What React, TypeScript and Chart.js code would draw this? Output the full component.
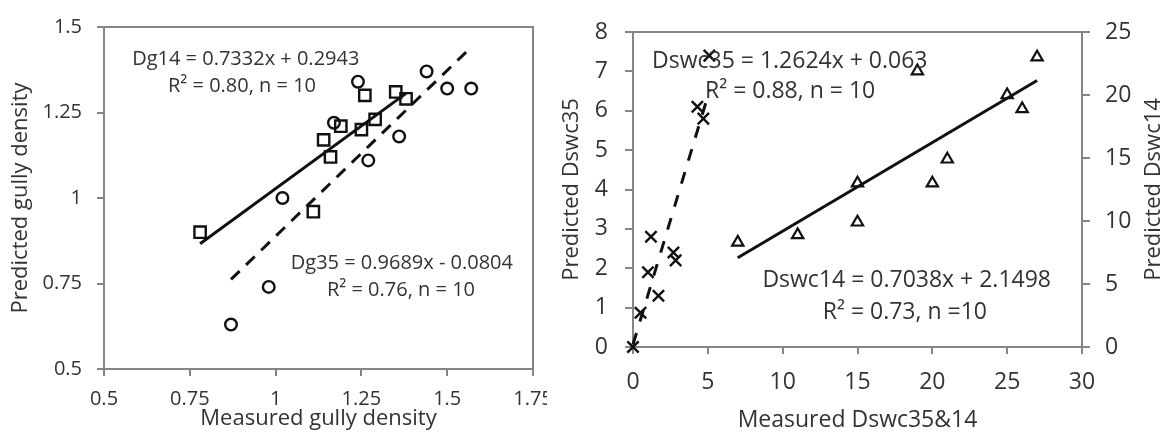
import React, { useEffect, useRef } from "react";
import { Chart, registerables } from "chart.js";

Chart.register(...registerables);

// ---------- Left panel: gully density ----------
const dg14Measured = [0.78, 1.11, 1.14, 1.16, 1.19, 1.25, 1.26, 1.29, 1.35, 1.38];
const dg14Predicted = [0.9, 0.96, 1.17, 1.12, 1.21, 1.2, 1.3, 1.23, 1.31, 1.29];
const dg35Measured = [0.87, 0.98, 1.02, 1.17, 1.24, 1.27, 1.36, 1.44, 1.5, 1.57];
const dg35Predicted = [0.63, 0.74, 1.0, 1.22, 1.34, 1.11, 1.18, 1.37, 1.32, 1.32];
const dg14TrendX = [0.78, 1.38];
const dg14TrendY = [0.866, 1.306];
const dg35TrendX = [0.87, 1.57];
const dg35TrendY = [0.762, 1.441];
const gullyXTickLabels = ["0.5", "0.75", "1", "1.25", "1.5", "1.75"];
const gullyYTickLabels = ["0.5", "0.75", "1", "1.25", "1.5"];

// ---------- Right panel: Dswc ----------
const dswc35Measured = [0, 0.5, 1.0, 1.2, 1.7, 2.7, 2.85, 4.3, 4.7, 5.1];
const dswc35Predicted = [0, 0.87, 1.9, 2.8, 1.3, 2.4, 2.2, 6.1, 5.8, 7.4];
const dswc14Measured = [7, 11, 15, 15, 19, 20, 21, 25, 26, 27];
const dswc14Predicted = [8.3, 8.9, 13.0, 9.9, 21.9, 13.0, 14.9, 20.0, 18.9, 23.0];
const dswc35TrendX = [0, 5.1];
const dswc35TrendY = [0.063, 6.5];
const dswc14TrendX = [7, 27];
const dswc14TrendY = [7.08, 21.15];

const TEXT = "#333333";
const AXIS = "#858585";
const INK = "#111111";
const FONT = "'Open Sans'";

const pts = (xs: number[], ys: number[]) => xs.map((x, i) => ({ x, y: ys[i] }));

const framePlugin = {
  id: "frame",
  beforeDatasetsDraw(chart: any) {
    const { ctx, chartArea: a } = chart;
    ctx.save();
    ctx.strokeStyle = AXIS;
    ctx.lineWidth = 2;
    ctx.strokeRect(a.left, a.top, a.right - a.left, a.bottom - a.top);
    ctx.restore();
  },
};

type Note = { text: string; x: number; y: number; align: CanvasTextAlign; size: number; yAxis?: string };

const notesPlugin = (notes: Note[]) => ({
  id: "notes",
  afterDatasetsDraw(chart: any) {
    const { ctx, scales } = chart;
    ctx.save();
    ctx.fillStyle = TEXT;
    ctx.textBaseline = "middle";
    notes.forEach((n) => {
      ctx.font = `${n.size}px ${FONT}`;
      ctx.textAlign = n.align;
      const px = scales.x.getPixelForValue(n.x);
      const py = scales[n.yAxis || "y"].getPixelForValue(n.y);
      ctx.fillText(n.text, px, py);
    });
    ctx.restore();
  },
});

const rightTitlePlugin = (text: string, size: number) => ({
  id: "rightTitle",
  afterDraw(chart: any) {
    const { ctx, chartArea: a, width } = chart;
    ctx.save();
    ctx.fillStyle = TEXT;
    ctx.font = `${size}px ${FONT}`;
    ctx.textAlign = "center";
    ctx.textBaseline = "middle";
    ctx.translate(width - size * 0.6, (a.top + a.bottom) / 2);
    ctx.rotate(-Math.PI / 2);
    ctx.fillText(text, 0, 0);
    ctx.restore();
  },
});

const gridOpts = (len: number) => ({
  drawOnChartArea: false,
  drawTicks: true,
  tickLength: len,
  color: AXIS,
  lineWidth: 2,
});

export default function App() {
  const leftRef = useRef<HTMLCanvasElement>(null);
  const rightRef = useRef<HTMLCanvasElement>(null);

  useEffect(() => {
    const left = new Chart(leftRef.current as HTMLCanvasElement, {
      type: "scatter",
      data: {
        datasets: [
          {
            label: "Dg14 trend",
            data: pts(dg14TrendX, dg14TrendY),
            showLine: true,
            borderColor: INK,
            borderWidth: 3,
            pointRadius: 0,
            clip: false,
          },
          {
            label: "Dg35 trend",
            data: pts(dg35TrendX, dg35TrendY),
            showLine: true,
            borderColor: INK,
            borderWidth: 3,
            borderDash: [12, 9],
            pointRadius: 0,
            clip: false,
          },
          {
            label: "Dg14",
            data: pts(dg14Measured, dg14Predicted),
            pointStyle: "rect",
            pointRadius: 8,
            pointBorderWidth: 2.4,
            pointBorderColor: INK,
            pointBackgroundColor: "rgba(0,0,0,0)",
            clip: false,
          },
          {
            label: "Dg35",
            data: pts(dg35Measured, dg35Predicted),
            pointStyle: "circle",
            pointRadius: 5.8,
            pointBorderWidth: 2.4,
            pointBorderColor: INK,
            pointBackgroundColor: "rgba(0,0,0,0)",
            clip: false,
          },
        ],
      },
      options: {
        responsive: false,
        animation: false,
        devicePixelRatio: 1,
        events: [],
        layout: { padding: { top: 20, right: 14, bottom: 0, left: 0 } },
        plugins: { legend: { display: false }, tooltip: { enabled: false } },
        scales: {
          x: {
            type: "linear",
            position: "bottom",
            min: 0.5,
            max: 1.75,
            border: { display: false },
            grid: gridOpts(7),
            ticks: {
              stepSize: 0.25,
              autoSkip: false,
              maxRotation: 0,
              padding: 11,
              color: TEXT,
              font: { family: FONT, size: 20 },
              callback: (_v: any, i: number) => gullyXTickLabels[i],
            },
            title: {
              display: true,
              text: "Measured gully density",
              color: TEXT,
              font: { family: FONT, size: 22 },
              padding: { top: 0, bottom: 4 },
            },
            afterFit: (s: any) => {
              s.height = 67;
              s.paddingLeft = 0;
              s.paddingRight = 0;
            },
          },
          y: {
            type: "linear",
            position: "left",
            min: 0.5,
            max: 1.5,
            border: { display: false },
            grid: gridOpts(7),
            ticks: {
              stepSize: 0.25,
              autoSkip: false,
              padding: 15,
              color: TEXT,
              font: { family: FONT, size: 20 },
              callback: (_v: any, i: number) => gullyYTickLabels[i],
            },
            title: {
              display: true,
              text: "Predicted gully density",
              color: TEXT,
              font: { family: FONT, size: 22 },
              padding: { top: 8, bottom: 0 },
            },
            afterFit: (s: any) => {
              s.width = 104;
            },
          },
        },
      },
      plugins: [
        framePlugin,
        notesPlugin([
          { text: "Dg14 = 0.7332x + 0.2943", x: 0.582, y: 1.405, align: "left", size: 20 },
          { text: "R² = 0.80, n = 10", x: 0.6865, y: 1.328, align: "left", size: 20 },
          { text: "Dg35 = 0.9689x - 0.0804", x: 1.6917, y: 0.8095, align: "right", size: 20 },
          { text: "R² = 0.76, n = 10", x: 1.581, y: 0.7292, align: "right", size: 20 },
        ]),
      ],
    } as any);

    const right = new Chart(rightRef.current as HTMLCanvasElement, {
      type: "scatter",
      data: {
        datasets: [
          {
            label: "Dswc35 trend",
            data: pts(dswc35TrendX, dswc35TrendY),
            yAxisID: "y",
            showLine: true,
            borderColor: INK,
            borderWidth: 3,
            borderDash: [12, 12],
            pointRadius: 0,
            clip: false,
          },
          {
            label: "Dswc14 trend",
            data: pts(dswc14TrendX, dswc14TrendY),
            yAxisID: "y2",
            showLine: true,
            borderColor: INK,
            borderWidth: 3,
            pointRadius: 0,
            clip: false,
          },
          {
            label: "Dswc35",
            data: pts(dswc35Measured, dswc35Predicted),
            yAxisID: "y",
            pointStyle: "crossRot",
            pointRadius: 8,
            pointBorderWidth: 2.4,
            pointBorderColor: INK,
            pointBackgroundColor: "rgba(0,0,0,0)",
            clip: false,
          },
          {
            label: "Dswc14",
            data: pts(dswc14Measured, dswc14Predicted),
            yAxisID: "y2",
            pointStyle: "triangle",
            pointRadius: 6.5,
            pointBorderWidth: 2.2,
            pointBorderColor: INK,
            pointBackgroundColor: "rgba(0,0,0,0)",
            clip: false,
          },
        ],
      },
      options: {
        responsive: false,
        animation: false,
        devicePixelRatio: 1,
        events: [],
        layout: { padding: { top: 32, right: 0, bottom: 0, left: 0 } },
        plugins: { legend: { display: false }, tooltip: { enabled: false } },
        scales: {
          x: {
            type: "linear",
            position: "bottom",
            min: 0,
            max: 30,
            border: { display: false },
            grid: gridOpts(7),
            ticks: {
              stepSize: 5,
              autoSkip: false,
              maxRotation: 0,
              padding: 15,
              color: TEXT,
              font: { family: FONT, size: 23 },
            },
            title: {
              display: true,
              text: "Measured Dswc35&14",
              color: TEXT,
              font: { family: FONT, size: 23 },
              padding: { top: 0, bottom: 2 },
            },
            afterFit: (s: any) => {
              s.height = 89;
              s.paddingLeft = 0;
              s.paddingRight = 0;
            },
          },
          y: {
            type: "linear",
            position: "left",
            min: 0,
            max: 8,
            border: { display: false },
            grid: gridOpts(8),
            ticks: {
              stepSize: 1,
              autoSkip: false,
              padding: 17,
              color: TEXT,
              font: { family: FONT, size: 23 },
            },
            title: {
              display: true,
              text: "Predicted Dswc35",
              color: TEXT,
              font: { family: FONT, size: 22 },
              padding: { top: 12, bottom: 0 },
            },
            afterFit: (s: any) => {
              s.width = 86;
            },
          },
          y2: {
            type: "linear",
            position: "right",
            min: 0,
            max: 25,
            border: { display: false },
            grid: gridOpts(8),
            ticks: {
              stepSize: 5,
              autoSkip: false,
              padding: 15,
              color: TEXT,
              font: { family: FONT, size: 23 },
            },
            title: { display: false },
            afterFit: (s: any) => {
              s.width = 85;
            },
          },
        },
      },
      plugins: [
        framePlugin,
        notesPlugin([
          { text: "Dswc35 = 1.2624x + 0.063", x: 1.27, y: 7.24, align: "left", size: 23 },
          { text: "R² = 0.88, n = 10", x: 4.81, y: 6.5, align: "left", size: 23 },
          { text: "Dswc14 = 0.7038x + 2.1498", x: 27.93, y: 1.7, align: "right", size: 23 },
          { text: "R² = 0.73, n =10", x: 23.65, y: 0.889, align: "right", size: 23 },
        ]),
        rightTitlePlugin("Predicted Dswc14", 22),
      ],
    } as any);

    return () => {
      left.destroy();
      right.destroy();
    };
  }, []);

  return (
    <div style={{ position: "absolute", left: 0, top: 0, width: 1167, height: 436, background: "#fff", overflow: "hidden" }}>
      <canvas ref={leftRef} width={547} height={436} style={{ position: "absolute", left: 0, top: 0, width: 547, height: 436 }} />
      <canvas ref={rightRef} width={620} height={436} style={{ position: "absolute", left: 547, top: 0, width: 620, height: 436 }} />
    </div>
  );
}
